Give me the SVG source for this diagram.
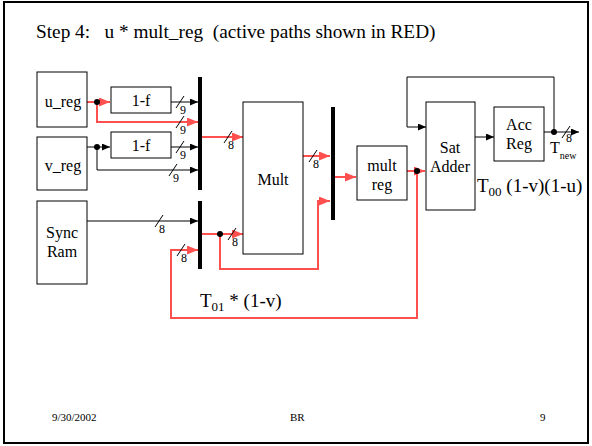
<svg xmlns="http://www.w3.org/2000/svg" width="592" height="446" viewBox="0 0 592 446" font-family="'Liberation Serif', 'DejaVu Serif', serif">
<style>
text{font-family:'Liberation Serif','DejaVu Serif',serif;fill:#000}
.t{font-size:16px;text-anchor:middle}
.n{font-size:12px}
.box{fill:#fff;stroke:#000;stroke-width:1}
.k{fill:none;stroke:#000;stroke-width:1}
.r{fill:none;stroke:#ff5050;stroke-width:2}
.bus{fill:#000}
.sl{stroke:#000;stroke-width:1}
</style>
<defs>
<marker id="ak" markerUnits="userSpaceOnUse" markerWidth="9" markerHeight="8" refX="8" refY="3.5" orient="auto"><path d="M0,0 L8,3.5 L0,7 z" fill="#000"/></marker>
<marker id="ar" markerUnits="userSpaceOnUse" markerWidth="12" markerHeight="10" refX="11" refY="4.5" orient="auto"><path d="M0,0 L11,4.5 L0,9 z" fill="#ff5050"/></marker>
</defs>
<rect x="4" y="2" width="584" height="441" fill="#fff" stroke="#000" stroke-width="2"/>
<text x="36" y="38" font-size="19.3" xml:space="preserve">Step 4:   u * mult_reg  (active paths shown in RED)</text>

<g id="connectors">
<path class="r" d="M87,102 H110" marker-end="url(#ar)"/>
<path class="r" d="M97,102 V122 H198" marker-end="url(#ar)"/>
<path class="k" d="M87,147 H110" marker-end="url(#ak)"/>
<path class="k" d="M97,147 V170 H198" marker-end="url(#ak)"/>
<path class="k" d="M171,102 H198" marker-end="url(#ak)"/>
<path class="k" d="M171,147 H198" marker-end="url(#ak)"/>
<path class="k" d="M87,221 H198" marker-end="url(#ak)"/>
<path class="r" d="M202,137 H243" marker-end="url(#ar)"/>
<path class="r" d="M202,234 H243" marker-end="url(#ar)"/>
<path class="r" d="M220,234 V269 H318 V201 H330" marker-end="url(#ar)"/>
<path class="r" d="M303,156 H330" marker-end="url(#ar)"/>
<path class="r" d="M335,177 H356" marker-end="url(#ar)"/>
<path class="r" d="M407,171 H425" marker-end="url(#ar)"/>
<path class="r" d="M417,171 V318 H171 V250 H198" marker-end="url(#ar)"/>
<path class="k" d="M554,132 V77 H407 V127 H426" marker-end="url(#ak)"/>
<path class="k" d="M475,137 H494" marker-end="url(#ak)"/>
<path class="k" d="M544,132 H579" marker-end="url(#ak)"/>
<circle cx="97" cy="102" r="3" fill="#000"/>
<circle cx="97" cy="147" r="3" fill="#000"/>
<circle cx="220" cy="234" r="3" fill="#000"/>
<circle cx="417" cy="171" r="3" fill="#000"/>
<circle cx="554" cy="132" r="3" fill="#000"/>
<g id="slashes">
<line class="sl" x1="176" y1="108" x2="184" y2="96"/><text class="n" x="180" y="114">9</text>
<line class="sl" x1="176" y1="128" x2="184" y2="116"/><text class="n" x="180" y="134">9</text>
<line class="sl" x1="176" y1="153" x2="184" y2="141"/><text class="n" x="180" y="159">9</text>
<line class="sl" x1="169" y1="176" x2="177" y2="164"/><text class="n" x="173" y="182">9</text>
<line class="sl" x1="155" y1="227" x2="163" y2="215"/><text class="n" x="159" y="233">8</text>
<line class="sl" x1="177" y1="256" x2="185" y2="244"/><text class="n" x="181" y="262">8</text>
<line class="sl" x1="224" y1="143" x2="232" y2="131"/><text class="n" x="228" y="149">8</text>
<line class="sl" x1="228" y1="240" x2="236" y2="228"/><text class="n" x="232" y="246">8</text>
<line class="sl" x1="309" y1="162" x2="317" y2="150"/><text class="n" x="313" y="168">8</text>
<line class="sl" x1="562" y1="138" x2="570" y2="126"/><text class="n" x="566" y="142">8</text>
</g>
</g>

<rect class="bus" x="198" y="77" width="4" height="113"/>
<rect class="bus" x="198" y="201" width="4" height="68"/>
<rect class="bus" x="331" y="107" width="4" height="113"/>

<g id="u_reg"><rect class="box" x="37" y="72" width="50" height="55"/><text class="t" x="63" y="107">u_reg</text></g>
<g id="v_reg"><rect class="box" x="37" y="137" width="50" height="53"/><text class="t" x="63" y="171">v_reg</text></g>
<g id="sync_ram"><rect class="box" x="37" y="201" width="50" height="83"/><text class="t" x="62" y="238">Sync</text><text class="t" x="62" y="257">Ram</text></g>
<g id="one_minus_f_top"><rect class="box" x="111" y="87" width="60" height="26"/><text class="t" x="141" y="106">1-f</text></g>
<g id="one_minus_f_bot"><rect class="box" x="111" y="132" width="60" height="26"/><text class="t" x="141" y="151">1-f</text></g>
<g id="mult"><rect class="box" x="243" y="102" width="60" height="152"/><text class="t" x="273" y="185">Mult</text></g>
<g id="mult_reg"><rect class="box" x="357" y="146" width="50" height="54"/><text class="t" x="382" y="171">mult</text><text class="t" x="382" y="190">reg</text></g>
<g id="sat_adder"><rect class="box" x="426" y="102" width="49" height="108"/><text class="t" x="450" y="153">Sat</text><text class="t" x="450" y="172">Adder</text></g>
<g id="acc_reg"><rect class="box" x="494" y="107" width="50" height="54"/><text class="t" x="519" y="130">Acc</text><text class="t" x="519" y="149">Reg</text></g>

<text x="550" y="153" font-size="16">T<tspan font-size="10" dy="6">new</tspan></text>
<text x="477" y="192" font-size="19">T<tspan font-size="13" dy="4">00</tspan><tspan dy="-4"> (1-v)(1-u)</tspan></text>
<text x="200" y="307" font-size="19">T<tspan font-size="13" dy="4">01</tspan><tspan dy="-4"> * (1-v)</tspan></text>

<text x="52" y="421" font-size="11">9/30/2002</text>
<text x="290" y="421" font-size="11">BR</text>
<text x="540" y="421" font-size="11">9</text>
</svg>
